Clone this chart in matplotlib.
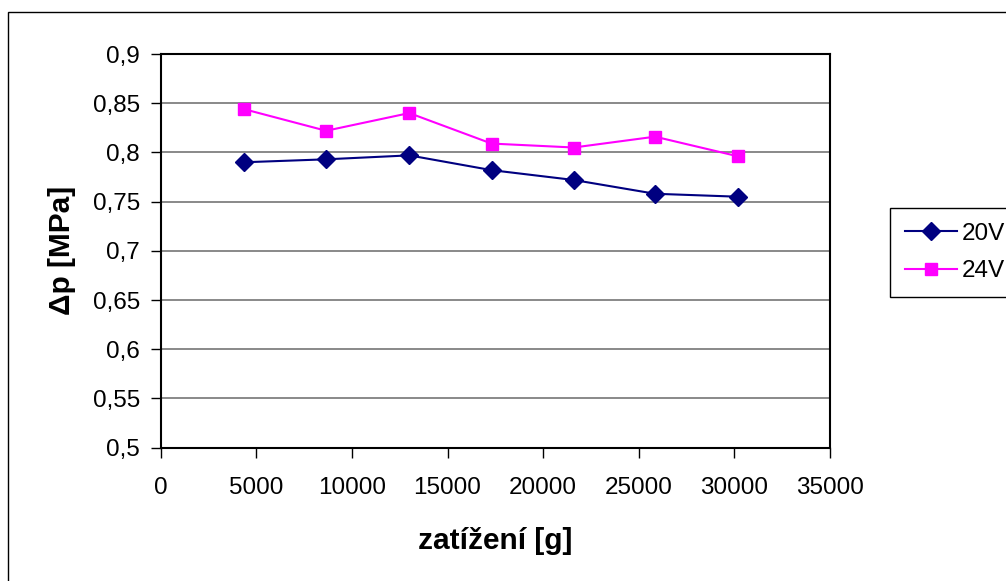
import matplotlib
matplotlib.use("Agg")
import matplotlib.pyplot as plt
from matplotlib.patches import Rectangle

plt.rcParams["font.family"] = ["Liberation Sans", "DejaVu Sans"]

# zatížení [g]
load_g = [4350, 8650, 13000, 17300, 21600, 25850, 30200]
# Δp [MPa]
dp_20v = [0.790, 0.793, 0.797, 0.782, 0.772, 0.758, 0.755]
dp_24v = [0.844, 0.822, 0.840, 0.809, 0.805, 0.816, 0.796]

y_ticks = [0.5, 0.55, 0.6, 0.65, 0.7, 0.75, 0.8, 0.85, 0.9]
y_tick_labels = ["0,5", "0,55", "0,6", "0,65", "0,7", "0,75", "0,8", "0,85", "0,9"]
x_ticks = [0, 5000, 10000, 15000, 20000, 25000, 30000, 35000]

W, H = 1006, 581
fig = plt.figure(figsize=(W / 100, H / 100), dpi=100)
ax = fig.add_axes([160.7 / W, 1 - 447.7 / H, (830 - 160.7) / W, (447.7 - 54) / H])

# outer chart border (clipped at right/bottom like the original)
fig.patches.append(Rectangle((8 / W, -0.1), 1.2, 1 - 12 / H + 0.1,
                             transform=fig.transFigure, fill=False,
                             edgecolor="black", linewidth=1.0))

for y in y_ticks[1:-1]:
    ax.axhline(y, color="#808080", linewidth=1.3, zorder=1)

ax.plot(load_g, dp_20v, color="#000080", linewidth=1.5, marker="D",
        markersize=9, label="20V", zorder=3)
ax.plot(load_g, dp_24v, color="#FF00FF", linewidth=1.5, marker="s",
        markersize=8.5, label="24V", zorder=3)

ax.set_xlim(0, 35000)
ax.set_ylim(0.5, 0.9)
ax.set_xticks(x_ticks)
ax.set_xticklabels([str(v) for v in x_ticks])
ax.set_yticks(y_ticks)
ax.set_yticklabels(y_tick_labels)
ax.tick_params(axis="both", labelsize=17.5, direction="out", width=1.0, color="black")
ax.tick_params(axis="x", length=7, pad=14)
ax.tick_params(axis="y", length=7, pad=8)

for side in ["top", "right", "left", "bottom"]:
    ax.spines[side].set_color("black")
    ax.spines[side].set_linewidth(1.5)

ax.set_xlabel("zatížení [g]", fontsize=21.5, fontweight="bold", labelpad=20)
ax.set_ylabel("Δp [MPa]", fontsize=21.5, fontweight="bold", labelpad=12)

leg = ax.legend(loc="upper left", bbox_to_anchor=(890 / W, 1 - 208 / H),
                bbox_transform=fig.transFigure, fontsize=17.5, frameon=True,
                fancybox=False, edgecolor="black", framealpha=1,
                borderpad=0.6, handlelength=2.15, labelspacing=0.65,
                handletextpad=0.2, borderaxespad=0)
leg.get_frame().set_linewidth(1.0)

fig.savefig("out.png", dpi=100)
